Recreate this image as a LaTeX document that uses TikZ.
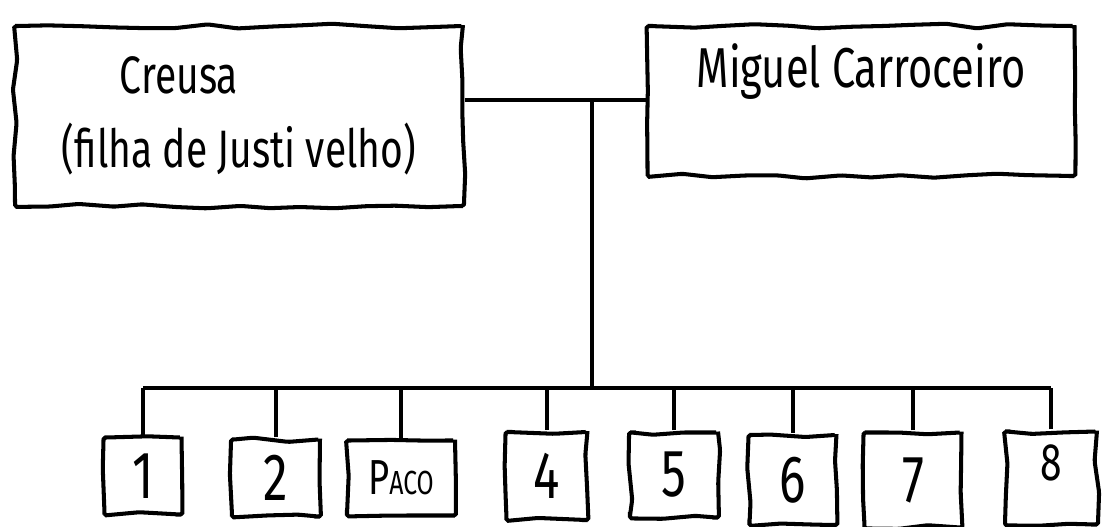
\documentclass[tikz,border=0pt]{standalone}
\usepackage{fontspec}
\setmainfont{Fira Sans}[FakeStretch=0.74]
\usetikzlibrary{positioning, decorations.pathmorphing}

\begin{document}
\pgfmathsetseed{12}
\begin{tikzpicture}[
    x=0.02cm, y=-0.02cm,
    line width=2.3pt,
    hand/.style={decorate, decoration={random steps, segment length=18pt, amplitude=1.4pt}, rounded corners=1pt},
    parent/.style={draw, hand, inner sep=0pt, font=\fontsize{30}{42}\selectfont},
    kid/.style={draw, hand, inner sep=0pt, font=\fontsize{38}{40}\selectfont}
]
    \useasboundingbox (0,0) rectangle (1115,527);

    % --- 1. 父母 (上面兩個大框) ---
    \node (creusa) at (239,116) [parent, minimum width=8.96cm, minimum height=3.6cm, align=left]
        {\hspace*{1.1em}Creusa\\(filha de Justi velho)};
    \node (miguel) at (861,101) [parent, minimum width=8.54cm, minimum height=3cm, text depth=1.4cm,
        font=\fontsize{32}{42}\selectfont]
        {Miguel Carroceiro};

    % 婚姻線與往下的分支點
    \coordinate (couple) at (592,100);
    \coordinate (bus) at (592,388);
    \draw (creusa.east |- couple) -- (miguel.west |- couple);
    \draw (couple) -- (bus);

    % --- 2. 孩子們 (下面一排小框) ---
    \node (k1) at (143,476) [kid, minimum width=1.54cm, minimum height=1.54cm] {1};
    \node (k2) at (276,478) [kid, minimum width=1.76cm, minimum height=1.54cm] {2};
    \node (paco) at (401,478) [kid, minimum width=2.16cm, minimum height=1.5cm, font=\fontsize{28}{30}\selectfont]
        {P{\fontsize{19}{22}\selectfont ACO}};
    \node (k4) at (547,476) [kid, minimum width=1.62cm, minimum height=1.76cm] {4};
    \node (k5) at (674,475) [kid, minimum width=1.76cm, minimum height=1.7cm] {5};
    \node (k6) at (793,480) [kid, minimum width=1.74cm, minimum height=1.8cm] {6};
    \node (k7) at (913,480) [kid, minimum width=1.94cm, minimum height=1.9cm] {7};
    \node (k8) at (1051,478) [kid, minimum width=1.84cm, minimum height=1.86cm, font=\fontsize{30}{32}\selectfont, text depth=0.6cm] {8};

    % --- 3. 橫線與各個孩子的連線 ---
    \draw (k1.north |- bus) -- (k8.north |- bus);
    \draw (k1.north) -- (k1.north |- bus);
    \draw (k2.north) -- (k2.north |- bus);
    \draw (paco.north) -- (paco.north |- bus);
    \draw (k4.north) -- (k4.north |- bus);
    \draw (k5.north) -- (k5.north |- bus);
    \draw (k6.north) -- (k6.north |- bus);
    \draw (k7.north) -- (k7.north |- bus);
    \draw (k8.north) -- (k8.north |- bus);

\end{tikzpicture}
\end{document}
